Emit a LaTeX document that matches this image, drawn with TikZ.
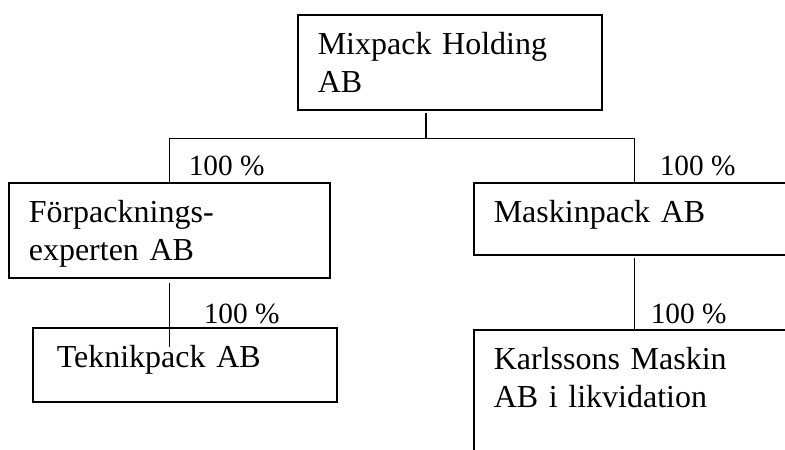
\documentclass[tikz,border=0pt]{standalone}
\usepackage{fontspec}
\setmainfont{Liberation Serif}
\usetikzlibrary{calc}

\begin{document}
\begin{tikzpicture}[x=0.375pt, y=-0.375pt, line width=0.6pt,
    orgbox/.style={draw, anchor=north west, inner xsep=7.5pt, inner ysep=0pt,
        align=left, font=\fontsize{12}{14}\selectfont, text height=15pt},
    share/.style={anchor=base west, inner sep=0pt, font=\fontsize{11}{13}\selectfont}]
    \useasboundingbox (0,0) rectangle (785,449);
    \clip (0,0) rectangle (785,449);

    \node[orgbox, text width=99pt, text depth=20.6pt] (mix) at (297,14) {Mixpack Holding\\AB};
    \node[orgbox, text width=105.4pt, text depth=20.6pt] (fpe) at (8,182) {Förpacknings-\\experten AB};
    \node[orgbox, text width=105.4pt, text depth=12pt] (mpk) at (473,182) {Maskinpack AB};
    \node[orgbox, text width=96pt, inner xsep=9pt, text depth=12.75pt] (tek) at (32,327) {Teknikpack AB};
    \node[orgbox, text width=105.4pt, text depth=50pt] (kar) at (473,329) {Karlssons Maskin\\AB i likvidation};

    \coordinate (bus) at ($(mix.south)+(-24,28)$);
    \draw[shorten <=1pt] (mix.south -| bus) -- (bus);
    \draw (fpe.north) -- (fpe.north |- bus) -- (mpk.north |- bus) -- (mpk.north);
    \draw[shorten <=1.5pt] (fpe.south) -- ($(fpe.south |- tek.north)+(0,20)$);
    \draw[shorten <=1pt] (mpk.south) -- (mpk.south |- kar.north);

    \node[share] (lfpe) at (188,175) {100 \%};
    \node[share] (lmpk) at (659,175) {100 \%};
    \node[share] (ltek) at (203,323) {100 \%};
    \node[share] (lkar) at (650,323) {100 \%};
\end{tikzpicture}
\end{document}
